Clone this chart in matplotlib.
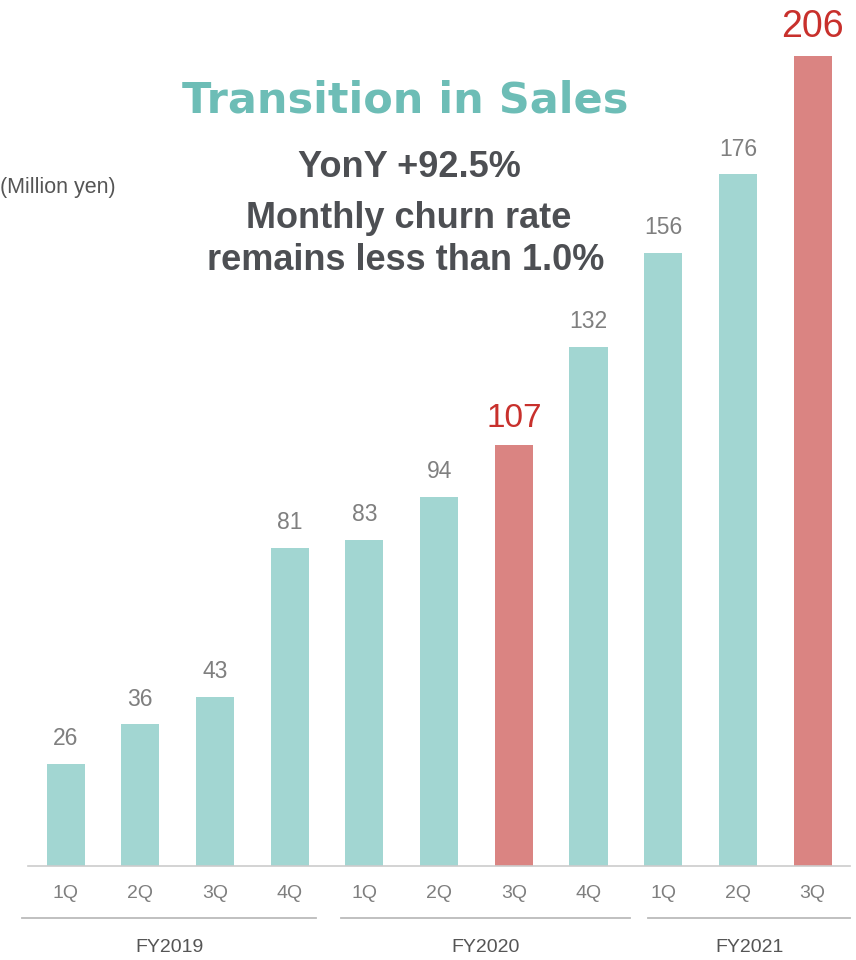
import matplotlib.pyplot as plt
import numpy as np

# data
quarters = ["1Q", "2Q", "3Q", "4Q", "1Q", "2Q", "3Q", "4Q", "1Q", "2Q", "3Q"]
sales = [26, 36, 43, 81, 83, 94, 107, 132, 156, 176, 206]
highlight = [6, 10]
fiscal_years = ["FY2019", "FY2020", "FY2021"]
fy_ranges = [(0, 3), (4, 7), (8, 10)]

teal = "#a2d6d2"
red = "#da8482"
gray_text = "#7f7f7f"
red_text = "#c8302c"

plt.rcParams['font.family'] = ['Liberation Sans', 'DejaVu Sans']

fig = plt.figure(figsize=(8.56, 9.6), dpi=100)
ax = fig.add_axes([0.033, 0.098, 0.96, 0.88])

x = np.arange(len(sales))
colors = [red if i in highlight else teal for i in x]
ax.bar(x, sales, width=0.51, color=colors, zorder=2)

# value labels
for i, v in enumerate(sales):
    if i in highlight:
        fs = 27 if i == len(sales) - 1 else 24
        ax.text(i, v + 3, str(v), ha='center', va='bottom', fontsize=fs,
                color=red_text, clip_on=False)
    else:
        ax.text(i, v + 3.5, str(v), ha='center', va='bottom', fontsize=16.5,
                color=gray_text)

ax.set_xlim(-0.5, 10.5)
ax.set_ylim(0, 215)

# axes styling
for s in ['top', 'right', 'left']:
    ax.spines[s].set_visible(False)
ax.spines['bottom'].set_color('#cccccc')
ax.spines['bottom'].set_linewidth(1.2)
ax.set_yticks([])
ax.set_xticks(x)
ax.set_xticklabels(quarters, fontsize=14, color=gray_text)
ax.tick_params(axis='x', length=0, pad=14)

# fiscal year groups
trans = ax.get_xaxis_transform()
pads = [(0.58, 0.35), (0.32, 0.56), (0.2, 0.5)]
for name, (a, b), (pl, pr) in zip(fiscal_years, fy_ranges, pads):
    ax.plot([a - pl, b + pr], [-0.062, -0.062], color='#bbbbbb', lw=1.3,
            transform=trans, clip_on=False)
    ax.text((a - pl + b + pr) / 2, -0.096, name, ha='center', va='center',
            fontsize=14, color='#555555', transform=trans)

# titles
fig.text(0.473, 0.895, "Transition in Sales", ha='center', va='center',
         fontsize=31, fontweight='bold', color='#6dbdb6',
         family=['DejaVu Sans'])
sub = dict(ha='center', va='center', fontsize=26, fontweight='bold',
           color='#4d4f53')
fig.text(0.478, 0.826, "YonY +92.5%", **sub)
fig.text(0.478, 0.772, "Monthly churn rate", **sub)
fig.text(0.474, 0.729, "remains less than 1.0%", **sub)
fig.text(0.0, 0.805, "(Million yen)", ha='left', va='center',
         fontsize=15.5, color='#555555')

plt.savefig("out.png", dpi=100)
